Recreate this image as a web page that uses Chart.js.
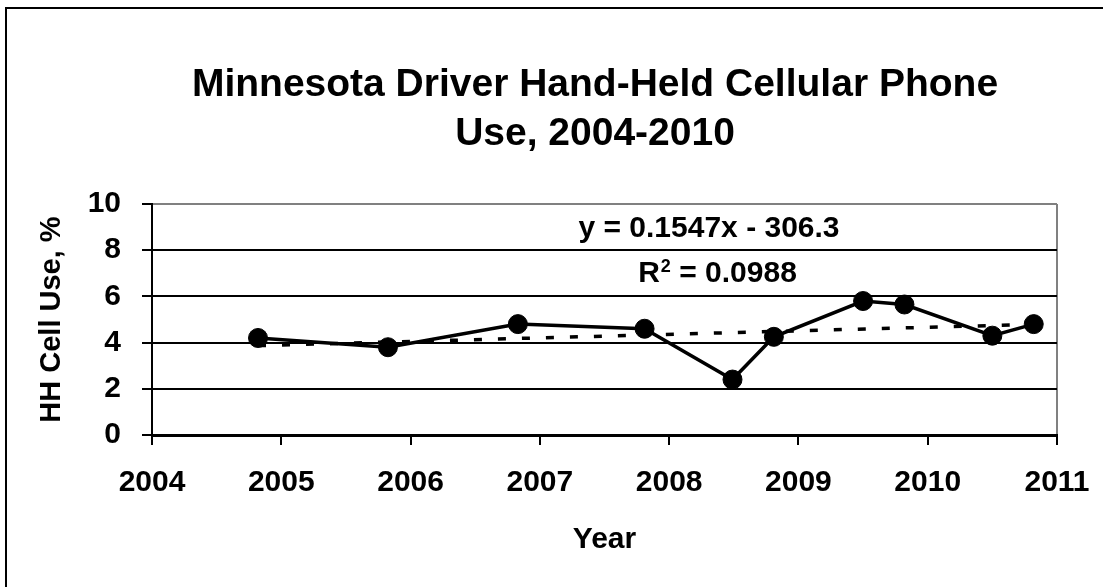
<!DOCTYPE html>
<html>
<head>
<meta charset="utf-8">
<title>Minnesota Driver Hand-Held Cellular Phone Use</title>
<script src="https://cdn.jsdelivr.net/npm/chart.js@4.4.1/dist/chart.umd.min.js"></script>
<style>
    body { margin: 0; background: #fff; }
    #wrap { position: relative; width: 1103px; height: 587px; }
</style>
</head>
<body>
<div id="wrap"><canvas id="cellUseGraph" width="1103" height="587"></canvas></div>
<script>
// data
const surveyDates = [2004.82, 2005.825, 2006.83, 2007.81, 2008.49, 2008.81, 2009.50, 2009.82, 2010.50, 2010.82];
const cellUse = [4.2, 3.8, 4.8, 4.6, 2.4, 4.25, 5.8, 5.65, 4.3, 4.8];
const trendDates = [2004.82, 2010.82];
const trendValues = [3.87, 4.79];
const yearTicks = ['2004', '2005', '2006', '2007', '2008', '2009', '2010', '2011'];
const titleLines = ['Minnesota Driver Hand-Held Cellular Phone', 'Use, 2004-2010'];
const trendEquation = 'y = 0.1547x - 306.3';
const trendR2 = '0.0988';

const FONT = '"Liberation Sans", Arial, sans-serif';

// plugin drawing the frame, title and trendline label
const textPlugin = {
    id: 'textPlugin',
    afterDraw(chart) {
        const ctx = chart.ctx;
        ctx.save();
        // outer frame (only left and top are in view)
        ctx.strokeStyle = '#000';
        ctx.lineWidth = 2;
        ctx.beginPath();
        ctx.moveTo(6, 588);
        ctx.lineTo(6, 8);
        ctx.lineTo(1103, 8);
        ctx.stroke();

        ctx.fillStyle = '#000';
        ctx.textAlign = 'center';
        ctx.textBaseline = 'alphabetic';
        ctx.font = 'bold 39px ' + FONT;
        ctx.fillText(titleLines[0], 595, 96);
        ctx.fillText(titleLines[1], 595, 145);

        ctx.font = 'bold 30px ' + FONT;
        ctx.fillText(trendEquation, 709, 237);

        // R² line, drawn in pieces for the superscript
        const rest = ' = ' + trendR2;
        ctx.font = 'bold 30px ' + FONT;
        const wR = ctx.measureText('R').width;
        const wRest = ctx.measureText(rest).width;
        ctx.font = 'bold 18px ' + FONT;
        const wSup = ctx.measureText('2').width;
        let x = 717 - (wR + wSup + wRest) / 2;
        ctx.textAlign = 'left';
        ctx.font = 'bold 30px ' + FONT;
        ctx.fillText('R', x, 282);
        x += wR + 1;
        ctx.font = 'bold 18px ' + FONT;
        ctx.fillText('2', x, 272);
        x += wSup;
        ctx.font = 'bold 30px ' + FONT;
        ctx.fillText(rest, x, 282);
        ctx.restore();
    }
};

// function to create the hand-held cell use graph
function create_cell_use_graph() {
    const points = surveyDates.map((d, i) => ({ x: d, y: cellUse[i] }));
    const trend = trendDates.map((d, i) => ({ x: d, y: trendValues[i] }));
    var config = {
        type: 'scatter',
        data: {
            datasets: [
                {
                    label: 'Trend',
                    data: trend,
                    showLine: true,
                    borderColor: '#000',
                    borderWidth: 3.5,
                    borderDash: [8, 16],
                    pointRadius: 0,
                    order: 0
                },
                {
                    label: 'HH Cell Use',
                    data: points,
                    showLine: true,
                    borderColor: '#000',
                    borderWidth: 3.5,
                    backgroundColor: '#000',
                    pointBackgroundColor: '#000',
                    pointBorderColor: '#000',
                    pointRadius: 9.5,
                    pointBorderWidth: 1,
                    order: 1
                }
            ]
        },
        options: {
            responsive: false,
            animation: false,
            layout: { padding: { top: 204, right: 46, left: 0, bottom: 0 } },
            plugins: {
                legend: { display: false },
                tooltip: { enabled: false },
                title: { display: false }
            },
            scales: {
                x: {
                    type: 'linear',
                    min: 2004,
                    max: 2011,
                    afterFit: (scale) => {
                        scale.height = 152;
                        scale.paddingLeft = 0;
                        scale.paddingRight = 40;
                    },
                    ticks: {
                        stepSize: 1,
                        padding: 20,
                        color: '#000',
                        font: { family: FONT, size: 30, weight: 'bold' },
                        callback: (val) => yearTicks[Math.round(val - 2004)]
                    },
                    grid: {
                        color: (ctx) => ctx.tick && ctx.tick.value === 2011 ? '#808080' : 'rgba(0,0,0,0)',
                        tickColor: '#000',
                        lineWidth: 2,
                        tickWidth: 2,
                        tickLength: 10
                    },
                    border: { color: '#000', width: 3 },
                    title: {
                        display: true,
                        text: 'Year',
                        color: '#000',
                        font: { family: FONT, size: 30, weight: 'bold' },
                        padding: { top: 0, bottom: 29 }
                    }
                },
                y: {
                    min: 0,
                    max: 10,
                    afterFit: (scale) => { scale.width = 152; },
                    ticks: {
                        stepSize: 2,
                        padding: 21,
                        color: '#000',
                        font: { family: FONT, size: 30, weight: 'bold' }
                    },
                    grid: {
                        color: (ctx) => ctx.tick && ctx.tick.value === 10 ? '#808080' : '#000',
                        tickColor: '#000',
                        lineWidth: 2,
                        tickWidth: 2,
                        tickLength: 10
                    },
                    border: { color: '#000', width: 2 },
                    title: {
                        display: true,
                        text: 'HH Cell Use, %',
                        color: '#000',
                        font: { family: FONT, size: 29, weight: 'bold' },
                        padding: { top: 35, bottom: 0 }
                    }
                }
            }
        },
        plugins: [textPlugin]
    };
    return new Chart('cellUseGraph', config);
}

create_cell_use_graph();
</script>
</body>
</html>
